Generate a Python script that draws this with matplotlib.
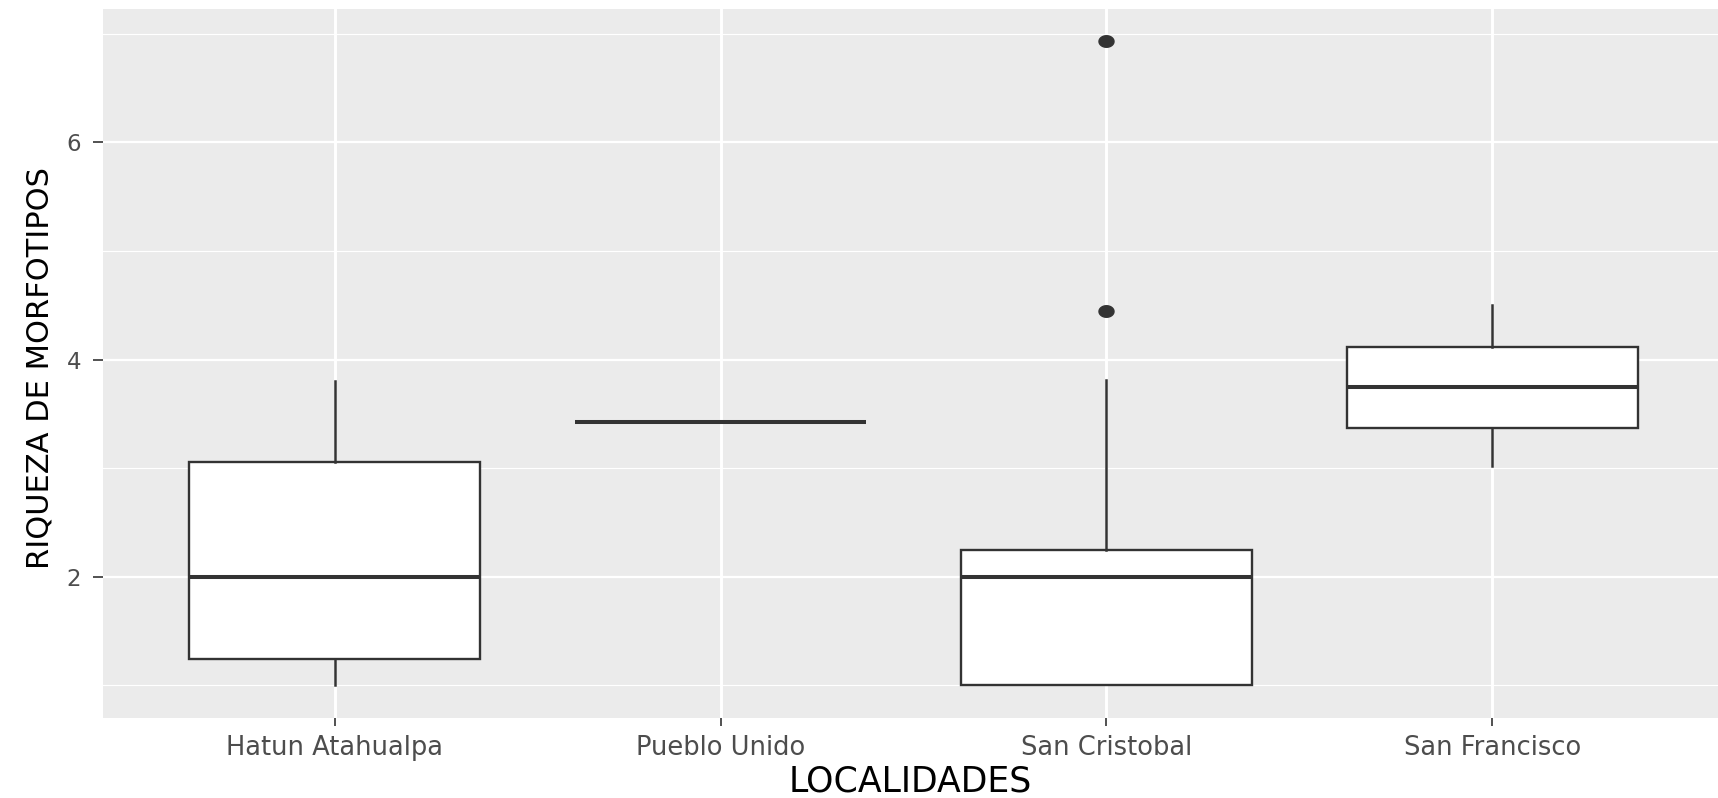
import numpy as np
import matplotlib
matplotlib.use("Agg")
import matplotlib.pyplot as plt
from matplotlib.path import Path
from matplotlib.ticker import FixedLocator

# ---- data ----
categories = ["Hatun Atahualpa", "Pueblo Unido", "San Cristobal", "San Francisco"]
whisker_low = [1.0, 3.43, 1.0, 3.02]
q1 = [1.24, 3.43, 1.0, 3.37]
median = [2.0, 3.43, 2.0, 3.75]
q3 = [3.06, 3.43, 2.245, 4.12]
whisker_high = [3.80, 3.43, 3.81, 4.50]
outliers = [[], [], [4.45, 6.93], []]
y_ticks = [2, 4, 6]
y_minor = [1, 3, 5, 7]
x_title = "LOCALIDADES"
y_title = "RIQUEZA DE MORFOTIPOS"

W, H = 1718, 798
fig = plt.figure(figsize=(W / 100, H / 100), dpi=100)
left_px, right_px, top_px, bot_px = 103, 1724, 9.2, 717.6
ax = fig.add_axes([left_px / W, (H - bot_px) / H, (right_px - left_px) / W, (bot_px - top_px) / H])
ax.set_facecolor("#EBEBEB")
for s in ax.spines.values():
    s.set_visible(False)

stats = []
for i, name in enumerate(categories):
    stats.append(dict(label=name, whislo=whisker_low[i], q1=q1[i], med=median[i],
                      q3=q3[i], whishi=whisker_high[i], fliers=outliers[i]))

theta = np.linspace(0, 2 * np.pi, 60)
ell = Path(np.column_stack([1.3 * np.cos(theta), np.sin(theta)]), closed=True)

positions = np.arange(1, len(categories) + 1)
ax.bxp(stats, positions=positions, widths=0.755, patch_artist=True, showcaps=False,
       boxprops=dict(facecolor="white", edgecolor="#333333", linewidth=1.7),
       medianprops=dict(color="#333333", linewidth=2.9, solid_capstyle="butt"),
       whiskerprops=dict(color="#333333", linewidth=1.8),
       flierprops=dict(marker=ell, markersize=10.8, markerfacecolor="#333333",
                       markeredgecolor="#333333", linestyle="none"))

allv = whisker_low + whisker_high + [v for o in outliers for v in o]
lo, hi = min(allv), max(allv)
pad = 0.05 * (hi - lo)
ax.set_ylim(lo - pad, hi + pad)
ax.set_xlim(0.4, len(categories) + 0.6)

ax.set_xticks(positions)
ax.set_xticklabels(categories)
ax.set_yticks(y_ticks)
ax.set_yticklabels([str(t) for t in y_ticks])
ax.yaxis.set_minor_locator(FixedLocator(y_minor))

ax.set_axisbelow(True)
ax.grid(axis="x", which="major", color="white", linewidth=2.1)
ax.grid(axis="y", which="major", color="white", linewidth=1.6)
ax.grid(axis="y", which="minor", color="white", linewidth=0.8)

ax.tick_params(axis="x", which="major", length=5.8, width=1.2, color="#333333",
               pad=6.5, labelsize=18.5, labelcolor="#4D4D4D")
ax.tick_params(axis="y", which="major", length=7.2, width=1.2, color="#333333",
               pad=8.6, labelsize=16.5, labelcolor="#4D4D4D")
ax.tick_params(axis="y", which="minor", length=0)

ax.set_xlabel(x_title, fontsize=25, color="black")
ax.xaxis.label.set_va("baseline")
ax.xaxis.set_label_coords(0.5 * (1718 - left_px) / (right_px - left_px) + 0.0, -(792 - bot_px) / (bot_px - top_px))

ax.set_ylabel(y_title, fontsize=22, color="black")
ax.yaxis.label.set_va("baseline")
ax.yaxis.set_label_coords((48.3 - left_px) / (right_px - left_px), 0.494)

fig.savefig("out.png", dpi=100, facecolor="white")
